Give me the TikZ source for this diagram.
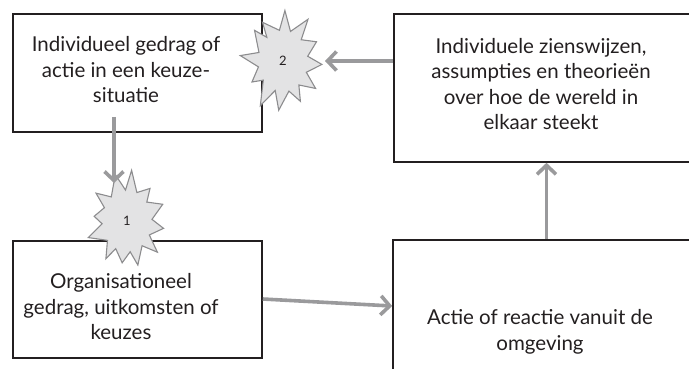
\documentclass[tikz,border=0pt]{standalone}
\usepackage{fontspec}
\setmainfont{Lato}
\usetikzlibrary{arrows.meta,calc}
\definecolor{arrowgray}{HTML}{9A9A9C}
\definecolor{boxline}{HTML}{231F20}
\definecolor{starfill}{HTML}{E3E3E4}
\definecolor{starline}{HTML}{8C8C8E}
\begin{document}
\begin{tikzpicture}[x=1pt,y=-1pt,
  box/.style={draw=boxline, line width=1.6pt, inner sep=0pt, rectangle},
  boxtext/.style={align=center, font=\fontsize{20.5}{25.5}\selectfont, text=boxline, inner sep=0pt},
  conn/.style={draw=arrowgray, line width=3.6pt, -{Straight Barb[length=9pt,width=19pt]}},
  burst/.style={draw=starline, fill=starfill, line width=1.1pt, line join=miter},
  num/.style={font=\fontsize{13}{15}\selectfont, text=boxline}]
\useasboundingbox (0,0) rectangle (689,368);
\clip (0,0) rectangle (689,368);
% boxes
\node[box, minimum width=249pt, minimum height=118pt] (b1) at (137.5,73) {};
\node[box, minimum width=306pt, minimum height=148pt] (b2) at (547,88) {};
\node[box, minimum width=249pt, minimum height=117pt] (b3) at (137.5,299.5) {};
\node[box, minimum width=307pt, minimum height=140pt] (b4) at (546.5,310) {};
% texts
\node[boxtext] (t1) at (126,70) {Individueel gedrag of\\actie in een keuze-\\situatie};
\node[boxtext] (t2) at (541,84) {Individuele zienswijzen,\\assumpties en theorieën\\over hoe de wereld in\\elkaar steekt};
\node[boxtext] (t3) at (121,307) {Organisationeel\\gedrag, uitkomsten of\\keuzes};
\node[boxtext] (t4) at (540,332) {Actie of reactie vanuit de\\omgeving};
% bursts
\coordinate (c2) at (283,61);
\coordinate (c1) at (127,221);
\draw[burst, shift={(c2)}] plot[samples=24, domain=0:23, variable=\k]
  ({\k*15+4+3*sin(131*\k)}:{32+7*cos(180*\k)+4*sin(97*\k)*(1+cos(180*\k))/2} and {40+9*cos(180*\k)+5*sin(61*\k)*(1+cos(180*\k))/2}) -- cycle;
\draw[burst, shift={(c1)}] plot[samples=24, domain=0:23, variable=\k]
  ({\k*15+9+3*sin(113*\k)}:{31+6*cos(180*\k)+4*sin(83*\k)*(1+cos(180*\k))/2} and {39+8*cos(180*\k)+5*sin(47*\k)*(1+cos(180*\k))/2}) -- cycle;
\node[num] (n2) at (c2) {2};
\node[num] (n1) at (c1) {1};
% connectors
\coordinate (p2) at ($(c2)+(42,0)$);
\draw[conn] (b2.west |- c2) -- (p2);
\coordinate (a1s) at ($(b1.south)+(-23.5,-16)$);
\coordinate (a1e) at ($(c1)+(-13,-38)$);
\draw[conn] (a1s) -- (a1e);
\draw[conn] (b4.north) -- (b4.north |- b2.south);
\draw[conn] ($(b3.east)+(0,-0.5)$) -- ($(b4.west)+(0,-4)$);
\end{tikzpicture}
\end{document}
